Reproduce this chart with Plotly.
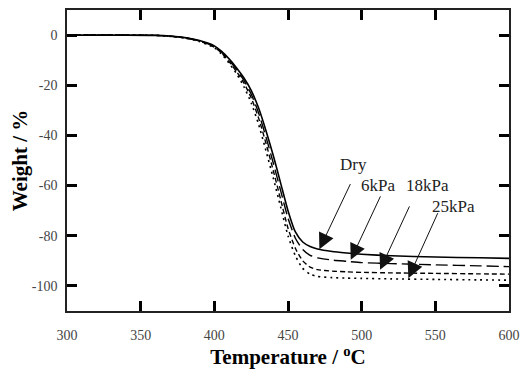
import plotly.graph_objects as go

temperature = [300, 340, 360, 370, 380, 390, 400, 405, 410, 415, 420, 425, 430, 435,
               440, 445, 450, 455, 460, 465, 470, 480, 490, 500, 520, 550, 580, 600]
w_dry = [0, 0, -0.1, -0.4, -1, -2.2, -4.3, -6.5, -9.5, -13, -17, -22, -29, -38,
         -48, -59, -70, -78.5, -82.5, -84.3, -85.3, -86.3, -86.9, -87.4, -88, -88.5, -88.8, -89]
w_6kpa = [0, 0, -0.1, -0.4, -1, -2.3, -4.5, -6.8, -10, -13.7, -18, -23.5, -31, -40.5,
          -51, -62, -73, -81, -85.5, -87.8, -88.8, -89.7, -90.2, -90.7, -91.1, -91.6, -92, -92.3]
w_18kpa = [0, 0, -0.1, -0.4, -1.1, -2.4, -4.8, -7.2, -10.6, -14.5, -19, -25, -33, -43,
           -54, -65.5, -77, -85, -90, -92.5, -93.5, -94.1, -94.4, -94.6, -94.8, -95, -95.2, -95.3]
w_25kpa = [0, 0, -0.1, -0.5, -1.2, -2.6, -5, -7.6, -11.2, -15.3, -20.5, -27, -35.5, -46,
           -57, -68.5, -80, -88, -93, -95.3, -96.2, -96.7, -96.9, -97, -97.2, -97.4, -97.6, -97.7]

series_names = ["Dry", "6kPa", "18kPa", "25kPa"]
series_values = [w_dry, w_6kpa, w_18kpa, w_25kpa]
dashes = ["solid", "12px,5px", "5px,3px", "2px,4px"]
widths = [1.6, 1.4, 1.4, 1.6]

# label text positions and arrow (tail -> tip) in data units
label_x = [494.2, 510.8, 544.4, 562.5]
label_y = [-51.4, -59.8, -59.8, -68.4]
arrow_tail_x = [492.8, 513.2, 532.9, 552.1]
arrow_tail_y = [-58.8, -63.7, -67.7, -70.4]
arrow_tip_x = [471.3, 492.6, 512.5, 531.7]
arrow_tip_y = [-85.4, -89.6, -93.6, -96.9]

x_ticks = [300, 350, 400, 450, 500, 550, 600]
y_ticks = [0, -20, -40, -60, -80, -100]

fig = go.Figure()
for name, vals, d, w in zip(series_names, series_values, dashes, widths):
    fig.add_trace(go.Scatter(x=temperature, y=vals, mode="lines", name=name,
                             line=dict(color="black", width=w, dash=d, shape="spline", smoothing=0.6),
                             showlegend=False))

serif = "Liberation Serif"
for i, name in enumerate(series_names):
    fig.add_annotation(x=label_x[i], y=label_y[i], text=name, showarrow=False,
                       font=dict(family=serif, size=17, color="#222"))
    fig.add_annotation(x=arrow_tip_x[i], y=arrow_tip_y[i], ax=arrow_tail_x[i], ay=arrow_tail_y[i],
                       axref="x", ayref="y", text="", showarrow=True,
                       arrowhead=2, arrowsize=3.2, arrowwidth=1, arrowcolor="#111", standoff=0)

axis_common = dict(showline=True, linecolor="#222", linewidth=1.5, mirror="ticks",
                   ticks="inside", ticklen=10, tickwidth=2.5, tickcolor="black",
                   showgrid=False, zeroline=False, automargin=False,
                   tickfont=dict(family=serif, size=14, color="#444"))

fig.update_xaxes(range=[300, 600], tickvals=x_ticks, ticktext=[str(v) for v in x_ticks],
                 title=dict(text="<b>Temperature / <sup>o</sup>C</b>",
                            font=dict(family=serif, size=21, color="black"), standoff=8),
                 ticklabelstandoff=10, **axis_common)
fig.update_yaxes(range=[-110, 10], tickvals=y_ticks, ticktext=[str(v) for v in y_ticks],
                 title=dict(text="<b>Weight / %</b>",
                            font=dict(family=serif, size=21, color="black"), standoff=17),
                 ticklabelstandoff=5, **axis_common)

# the page body has an 8px default margin, so the figure is sized to fit the 530x376 window
fig.update_layout(width=522, height=368, margin=dict(l=59, r=21, t=2, b=65),
                  plot_bgcolor="white", paper_bgcolor="white")

fig.write_html("out.html")
